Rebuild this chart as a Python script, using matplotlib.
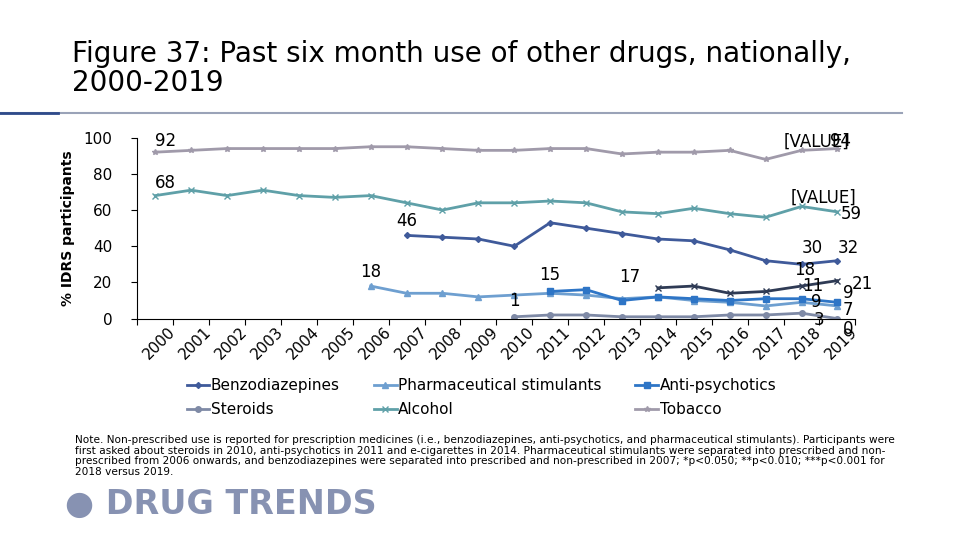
import matplotlib
matplotlib.use("Agg")
import matplotlib.pyplot as plt
import numpy as np

years = [str(y) for y in range(2000, 2020)]
tobacco = [92,93,94,94,94,94,95,95,94,93,93,94,94,91,92,92,93,88,93,94]
alcohol = [68,71,68,71,68,67,68,64,60,64,64,65,64,59,58,61,58,56,62,59]
benzo = [None]*7 + [46,45,44,40,53,50,47,44,43,38,32,30,32]
pharma = [None]*6 + [18,14,14,12,13,14,13,11,12,10,9,7,9,7]
antipsych = [None]*11 + [15,16,10,12,11,10,11,11,9]
steroids = [None]*10 + [1,2,2,1,1,1,2,2,3,0]
ecig = [None]*14 + [17,18,14,15,18,21]

fig = plt.figure(figsize=(9.6,5.4), dpi=100)
fig.text(0.075, 0.82, "Figure 37: Past six month use of other drugs, nationally,\n2000-2019",
         fontsize=20, va="bottom", ha="left", linespacing=1.05)
fig.add_artist(plt.Line2D([0,0.94],[0.79,0.79], color="#9aa3b8", lw=1.5))
fig.add_artist(plt.Line2D([0,0.06],[0.79,0.79], color="#2e4a8a", lw=2))

ax = fig.add_axes([0.143, 0.41, 0.748, 0.335])
x = np.arange(len(years))+0.5
def arr(v): return np.array([np.nan if a is None else a for a in v], float)

series = [
 ("Benzodiazepines", benzo, "#3F5A9A", "D", 3),
 ("Pharmaceutical stimulants", pharma, "#6E9FD0", "^", 4),
 ("Anti-psychotics", antipsych, "#2E75C6", "s", 4),
 ("Steroids", steroids, "#7F8AA6", "o", 4),
 ("Alcohol", alcohol, "#5FA0A8", "x", 4),
 ("Tobacco", tobacco, "#A09AAA", "*", 4),
]
for name, v, c, m, ms in series:
    ax.plot(x, arr(v), color=c, marker=m, ms=ms, lw=2, label=name)
ax.plot(x, arr(ecig), color="#2F3B55", marker="x", ms=4, lw=2)

ax.set_xlim(0, 20)
ax.set_ylim(0, 100)
ax.set_yticks(range(0, 101, 20))
ax.set_xticks(np.arange(21))
ax.set_xticklabels([])
for i, y in enumerate(years):
    ax.text(x[i]+0.35, -3, y, rotation=45, ha="right", va="top", fontsize=11, rotation_mode="anchor",
            transform=ax.transData)
ax.tick_params(axis="y", labelsize=11, length=4, pad=14)
ax.tick_params(axis="x", length=4)
for s in ["top","right"]:
    ax.spines[s].set_visible(False)
ax.set_ylabel("% IDRS participants", fontsize=10, fontweight="bold", labelpad=6)

fs = 12
ax.text(0.5, 93, "92", fontsize=fs, ha="left", va="bottom")
ax.text(0.5, 70, "68", fontsize=fs, ha="left", va="bottom")
ax.text(7.5, 49, "46", fontsize=fs, ha="center", va="bottom")
ax.text(6.5, 21, "18", fontsize=fs, ha="center", va="bottom")
ax.text(11.5, 19, "15", fontsize=fs, ha="center", va="bottom")
ax.text(10.5, 5, "1", fontsize=fs, ha="center", va="bottom")
ax.text(14.0, 18, "17", fontsize=fs, ha="right", va="bottom")
ax.text(18.0, 93, "[VALUE]", fontsize=fs, ha="left", va="bottom")
ax.text(19.3, 93, "94", fontsize=fs, ha="left", va="bottom")
ax.text(18.2, 62, "[VALUE]", fontsize=fs, ha="left", va="bottom")
ax.text(19.6, 58, "59", fontsize=fs, ha="left", va="center")
ax.text(18.8, 39, "30", fontsize=fs, ha="center", va="center")
ax.text(19.8, 39, "32", fontsize=fs, ha="center", va="center")
ax.text(18.6, 27, "18", fontsize=fs, ha="center", va="center")
ax.text(19.9, 19, "21", fontsize=fs, ha="left", va="center")
ax.text(18.8, 18, "11", fontsize=fs, ha="center", va="center")
ax.text(18.9, 9, "9", fontsize=fs, ha="center", va="center")
ax.text(19.8, 14, "9", fontsize=fs, ha="center", va="center")
ax.text(19.8, 5, "7", fontsize=fs, ha="center", va="center")
ax.text(19.0, -1, "3", fontsize=fs, ha="center", va="center", clip_on=False)
ax.text(19.8, -6, "0", fontsize=fs, ha="center", va="center", clip_on=False)

h, l = ax.get_legend_handles_labels()
order = [0,3,1,4,2,5]
fig.legend([h[i] for i in order], [l[i] for i in order], ncol=3, loc="upper left",
           bbox_to_anchor=(0.18, 0.325), frameon=False, fontsize=11,
           columnspacing=2.2, handlelength=1.5, handletextpad=0.1, labelspacing=0.6)

fig.text(0.078, 0.195, "Note. Non-prescribed use is reported for prescription medicines (i.e., benzodiazepines, anti-psychotics, and pharmaceutical stimulants). Participants were\n"
 "first asked about steroids in 2010, anti-psychotics in 2011 and e-cigarettes in 2014. Pharmaceutical stimulants were separated into prescribed and non-\n"
 "prescribed from 2006 onwards, and benzodiazepines were separated into prescribed and non-prescribed in 2007; *p<0.050; **p<0.010; ***p<0.001 for\n"
 "2018 versus 2019.", fontsize=7.6, va="top", ha="left", linespacing=1.1)
fig.text(0.068, 0.065, "\u25CF DRUG TRENDS", fontsize=24, fontweight="bold", color="#8792b2", va="center")
fig.savefig("out.png", dpi=100)
